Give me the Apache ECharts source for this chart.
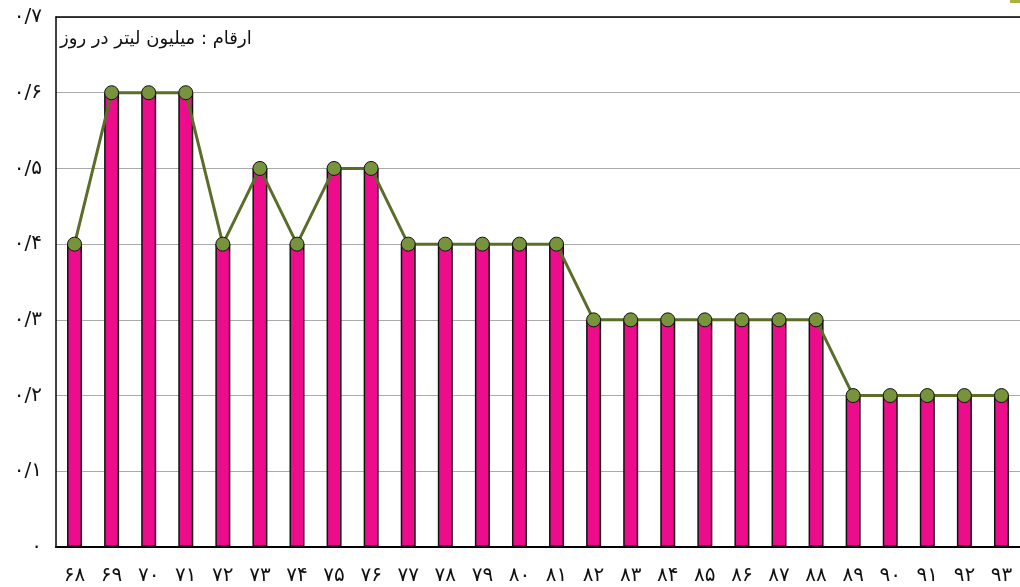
<!DOCTYPE html>
<html>
<head>
<meta charset="utf-8">
<script src="https://cdn.jsdelivr.net/npm/echarts@6/dist/echarts.min.js"></script>
<style>
  html, body { margin: 0; padding: 0; background: #fff; }
  #main { width: 1020px; height: 587px; }
</style>
</head>
<body>
<div id="main"></div>
<script>
// years (Persian digits)
const years = ["۶۸", "۶۹", "۷۰", "۷۱", "۷۲", "۷۳", "۷۴", "۷۵", "۷۶", "۷۷", "۷۸", "۷۹", "۸۰",
  "۸۱", "۸۲", "۸۳", "۸۴", "۸۵", "۸۶", "۸۷", "۸۸", "۸۹", "۹۰", "۹۱", "۹۲", "۹۳"]
// million litres per day
const values = [0.4, 0.6, 0.6, 0.6, 0.4, 0.5, 0.4, 0.5, 0.5, 0.4, 0.4, 0.4, 0.4,
  0.4, 0.3, 0.3, 0.3, 0.3, 0.3, 0.3, 0.3, 0.2, 0.2, 0.2, 0.2, 0.2]
const yTickLabels = ["۰", "۰/۱", "۰/۲", "۰/۳", "۰/۴", "۰/۵", "۰/۶", "۰/۷"]
const unitNote = "ارقام : میلیون لیتر در روز"

const font = "DejaVu Sans"
const myChart = echarts.init(document.getElementById("main"))

myChart.setOption({
  animation: false,
  textStyle: { fontFamily: font },
  grid: { left: 56, right: 0, top: 17, bottom: 40 },
  graphic: [
    { type: "text", left: 60, top: 30, style: { text: unitNote, font: "18px " + font, fill: "#111" } },
    { type: "rect", right: 0, top: 0, shape: { width: 10, height: 3 }, style: { fill: "#a9b23a" } },
  ],
  xAxis: [
    {
      type: "category",
      data: years,
      axisLine: { lineStyle: { color: "#000", width: 2 } },
      axisTick: { show: false },
      axisLabel: { color: "#111", fontSize: 20, margin: 19, interval: 0 },
    },
    {
      // top frame line
      type: "category",
      data: years,
      position: "top",
      axisLine: { lineStyle: { color: "#000", width: 1.5 } },
      axisTick: { show: false },
      axisLabel: { show: false },
    },
  ],
  yAxis: {
    type: "value",
    min: 0, max: 0.7, interval: 0.1,
    axisLine: { show: true, lineStyle: { color: "#000", width: 1.5 } },
    axisTick: { show: false },
    axisLabel: {
      color: "#111", fontSize: 20, margin: 14,
      formatter: v => yTickLabels[Math.round(v * 10)],
    },
    splitLine: { lineStyle: { color: "#aaa", width: 1.2 } },
  },
  series: [
    {
      type: "bar",
      data: values,
      barWidth: 15,
      itemStyle: { color: "#ec0c8c", borderColor: "#111", borderWidth: 1.5 },
    },
    {
      type: "line",
      data: values,
      symbol: "circle",
      symbolSize: 14,
      lineStyle: { color: "#5a6e2a", width: 3 },
      itemStyle: { color: "#77933c", borderColor: "#111", borderWidth: 1 },
    },
  ],
})
</script>
</body>
</html>
